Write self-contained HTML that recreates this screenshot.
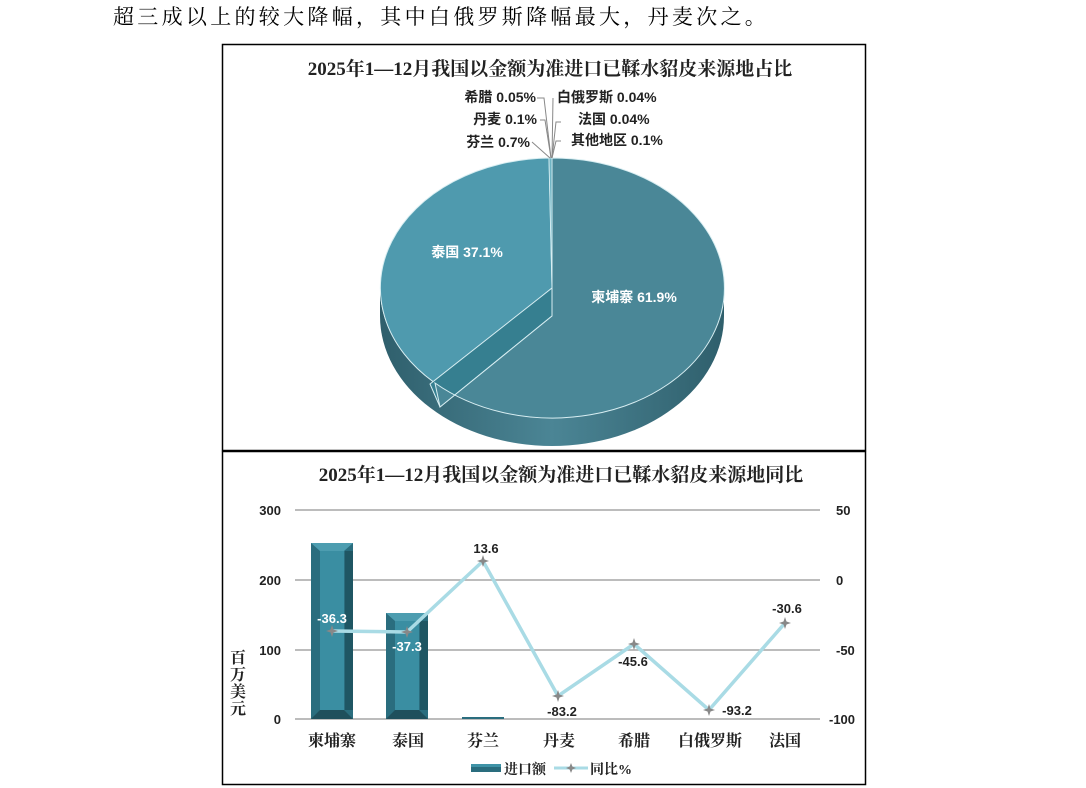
<!DOCTYPE html>
<html><head><meta charset="utf-8">
<style>
body{margin:0;width:1086px;height:788px;background:#fff;overflow:hidden}
svg{display:block}
</style></head><body>
<svg width="1086" height="788" xmlns="http://www.w3.org/2000/svg">
<defs>
<linearGradient id="side" x1="0" x2="1" y1="0" y2="0">
<stop offset="0" stop-color="#2f5f6c"/><stop offset="0.5" stop-color="#4b8595"/><stop offset="1" stop-color="#2f5f6c"/>
</linearGradient>
</defs>
<text x="113" y="24" font-family="Liberation Serif,'Noto Serif CJK SC',serif" font-size="21" letter-spacing="3.3" fill="#000">超三成以上的较大降幅，其中白俄罗斯降幅最大，丹麦次之。</text>

<!-- pie box -->
<rect x="222.5" y="44.5" width="643" height="406" fill="#fff" stroke="#000" stroke-width="1.5"/>
<text x="550" y="75" text-anchor="middle" font-family="Liberation Serif,'Noto Serif CJK SC',serif" font-size="19" font-weight="bold" fill="#222">2025年1—12月我国以金额为准进口已鞣水貂皮来源地占比</text>

<path d="M380,288 A172,130 0 0 0 724,288 L724,316 A172,130 0 0 1 380,316 Z" fill="url(#side)"/>
<path d="M552,288 L435,383 A172,130 0 0 1 549,158 Z" fill="#4f9aae" stroke="#d8eef2" stroke-width="1"/>
<path d="M552,288 L552,316 L440,407 L430,384 Z" fill="#367f90" stroke="#d8eef2" stroke-width="1"/>
<path d="M552,288 L552,158 A172,130 0 1 1 435,383 L440,407 L552,316 Z" fill="#4a8797" stroke="#d8eef2" stroke-width="1"/>
<path d="M549,158 L552,158 L552,288 Z" fill="#6fb4c4" stroke="#d8eef2" stroke-width="0.8"/>
<text x="467" y="257" text-anchor="middle" font-family="Liberation Sans,'Noto Sans CJK SC',sans-serif" font-size="14" font-weight="bold" fill="#fff">泰国 37.1%</text>
<text x="634" y="302" text-anchor="middle" font-family="Liberation Sans,'Noto Sans CJK SC',sans-serif" font-size="14" font-weight="bold" fill="#fff">柬埔寨 61.9%</text>
<g stroke="#888" stroke-width="1" fill="none">
<polyline points="532,142 550,158"/><polyline points="540,120 545,120 551,158"/><polyline points="537,98 544,98 551,158"/>
<polyline points="552,158 553,98"/><polyline points="552,158 556,122 561,122"/><polyline points="552,158 556,141 561,141"/>
</g>
<g font-family="Liberation Sans,'Noto Sans CJK SC',sans-serif" font-size="14" font-weight="bold" fill="#222">
<text x="536" y="102" text-anchor="end">希腊 0.05%</text>
<text x="537" y="124" text-anchor="end">丹麦 0.1%</text>
<text x="530" y="147" text-anchor="end">芬兰 0.7%</text>
<text x="557" y="102">白俄罗斯 0.04%</text>
<text x="578" y="124">法国 0.04%</text>
<text x="571" y="145">其他地区 0.1%</text>
</g>

<!-- bottom box -->
<rect x="222.5" y="451.5" width="643" height="333" fill="#fff" stroke="#000" stroke-width="1.5"/>
<text x="561" y="481" text-anchor="middle" font-family="Liberation Serif,'Noto Serif CJK SC',serif" font-size="19" font-weight="bold" fill="#222">2025年1—12月我国以金额为准进口已鞣水貂皮来源地同比</text>
<g stroke="#a6a6a6" stroke-width="1.5">
<line x1="295" y1="510" x2="820" y2="510"/><line x1="295" y1="580" x2="820" y2="580"/><line x1="295" y1="650" x2="820" y2="650"/><line x1="295" y1="719" x2="820" y2="719"/>
</g>
<g font-family="Liberation Sans,sans-serif" font-size="13" font-weight="bold" fill="#222">
<text x="281" y="515" text-anchor="end">300</text><text x="281" y="585" text-anchor="end">200</text><text x="281" y="655" text-anchor="end">100</text><text x="281" y="724" text-anchor="end">0</text>
<text x="836" y="515">50</text><text x="836" y="585">0</text><text x="836" y="655">-50</text><text x="829" y="724">-100</text>
</g>
<g font-family="Liberation Serif,'Noto Serif CJK SC',serif" font-size="16" font-weight="bold" fill="#222" text-anchor="middle">
<text x="238" y="663">百</text><text x="238" y="680">万</text><text x="238" y="697">美</text><text x="238" y="714">元</text>
<text x="332" y="746">柬埔寨</text><text x="408" y="746">泰国</text><text x="483" y="746">芬兰</text><text x="559" y="746">丹麦</text><text x="634" y="746">希腊</text><text x="710" y="746">白俄罗斯</text><text x="785" y="746">法国</text>
</g>
<g>
<rect x="311" y="543" width="42" height="176" fill="#2a6d7e"/>
<polygon points="311,543 353,543 344,551 320,551" fill="#4d9db0"/>
<rect x="320" y="551" width="24" height="159" fill="#3a8ea2"/>
<polygon points="311,719 353,719 344,710 320,710" fill="#1f4f5c"/>
<rect x="345" y="551" width="8" height="159" fill="#1f5663"/>
<rect x="386" y="613" width="42" height="106" fill="#2a6d7e"/>
<polygon points="386,613 428,613 419,621 395,621" fill="#4d9db0"/>
<rect x="395" y="621" width="24" height="89" fill="#3a8ea2"/>
<polygon points="386,719 428,719 419,710 395,710" fill="#1f4f5c"/>
<rect x="420" y="621" width="8" height="89" fill="#1f5663"/>
<rect x="462" y="717" width="42" height="2" fill="#2a6d7e"/>
</g>
<polyline points="332,631 407,632 483,561 558,696 634,644 709,710 785,623" fill="none" stroke="#a9dbe5" stroke-width="3.5"/>
<g fill="#888">
<path d="M332,625 l2,6 -2,6 -2,-6z M326,631 l6,-2 6,2 -6,2z"/>
<path d="M407,626 l2,6 -2,6 -2,-6z M401,632 l6,-2 6,2 -6,2z"/>
<path d="M483,555 l2,6 -2,6 -2,-6z M477,561 l6,-2 6,2 -6,2z"/>
<path d="M558,690 l2,6 -2,6 -2,-6z M552,696 l6,-2 6,2 -6,2z"/>
<path d="M634,638 l2,6 -2,6 -2,-6z M628,644 l6,-2 6,2 -6,2z"/>
<path d="M709,704 l2,6 -2,6 -2,-6z M703,710 l6,-2 6,2 -6,2z"/>
<path d="M785,617 l2,6 -2,6 -2,-6z M779,623 l6,-2 6,2 -6,2z"/>
</g>
<g font-family="Liberation Sans,sans-serif" font-size="13" font-weight="bold" text-anchor="middle">
<text x="332" y="623" fill="#fff">-36.3</text>
<text x="407" y="651" fill="#fff">-37.3</text>
<text x="486" y="553" fill="#222">13.6</text>
<text x="562" y="716" fill="#222">-83.2</text>
<text x="633" y="666" fill="#222">-45.6</text>
<text x="737" y="715" fill="#222">-93.2</text>
<text x="787" y="613" fill="#222">-30.6</text>
</g>
<rect x="471" y="764" width="30" height="8" fill="#2a6d7e"/>
<rect x="471" y="764" width="30" height="3" fill="#3f93a7"/>
<text x="504" y="774" font-family="Liberation Serif,'Noto Serif CJK SC',serif" font-size="14" font-weight="bold" fill="#222">进口额</text>
<line x1="554" y1="768" x2="588" y2="768" stroke="#a9dbe5" stroke-width="3"/>
<path d="M571,763 l2,5 -2,5 -2,-5z M566,768 l5,-2 5,2 -5,2z" fill="#888"/>
<text x="590" y="774" font-family="Liberation Serif,'Noto Serif CJK SC',serif" font-size="14" font-weight="bold" fill="#222">同比%</text>
</svg>
</body></html>
